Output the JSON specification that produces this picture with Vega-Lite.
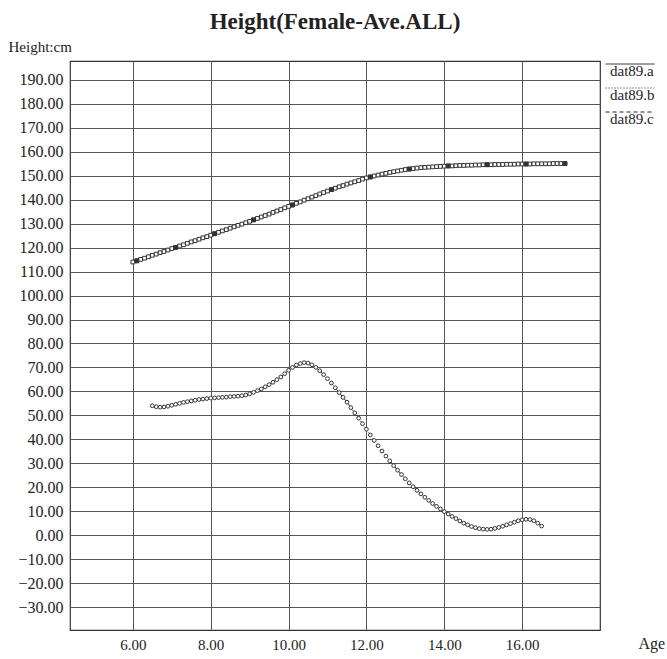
{
  "$schema": "https://vega.github.io/schema/vega-lite/v6.json",
  "width": 530,
  "height": 569,
  "autosize": {"type": "none"},
  "padding": {"left": 70, "top": 61, "right": 67, "bottom": 29},
  "background": "white",
  "config": {
    "view": {"stroke": "#333", "strokeWidth": 1.2},
    "font": "Liberation Serif"
  },
  "title": {
    "text": "Height(Female-Ave.ALL)",
    "font": "Liberation Serif",
    "fontSize": 23,
    "fontWeight": "bold",
    "color": "#222",
    "anchor": "middle",
    "offset": 5
  },
  "datasets": {
    "curves": [
      {"series": "dat89.b", "age": 6.0, "height": 114.0},
      {"series": "dat89.b", "age": 6.1, "height": 114.5},
      {"series": "dat89.b", "age": 6.2, "height": 115.1},
      {"series": "dat89.b", "age": 6.3, "height": 115.6},
      {"series": "dat89.b", "age": 6.4, "height": 116.2},
      {"series": "dat89.b", "age": 6.5, "height": 116.8},
      {"series": "dat89.b", "age": 6.6, "height": 117.3},
      {"series": "dat89.b", "age": 6.7, "height": 117.9},
      {"series": "dat89.b", "age": 6.8, "height": 118.4},
      {"series": "dat89.b", "age": 6.9, "height": 119.0},
      {"series": "dat89.b", "age": 7.0, "height": 119.6},
      {"series": "dat89.b", "age": 7.1, "height": 120.1},
      {"series": "dat89.b", "age": 7.2, "height": 120.7},
      {"series": "dat89.b", "age": 7.3, "height": 121.2},
      {"series": "dat89.b", "age": 7.4, "height": 121.8},
      {"series": "dat89.b", "age": 7.5, "height": 122.4},
      {"series": "dat89.b", "age": 7.6, "height": 122.9},
      {"series": "dat89.b", "age": 7.7, "height": 123.5},
      {"series": "dat89.b", "age": 7.8, "height": 124.1},
      {"series": "dat89.b", "age": 7.9, "height": 124.6},
      {"series": "dat89.b", "age": 8.0, "height": 125.2},
      {"series": "dat89.b", "age": 8.1, "height": 125.8},
      {"series": "dat89.b", "age": 8.2, "height": 126.4},
      {"series": "dat89.b", "age": 8.3, "height": 127.0},
      {"series": "dat89.b", "age": 8.4, "height": 127.5},
      {"series": "dat89.b", "age": 8.5, "height": 128.1},
      {"series": "dat89.b", "age": 8.6, "height": 128.7},
      {"series": "dat89.b", "age": 8.7, "height": 129.3},
      {"series": "dat89.b", "age": 8.8, "height": 129.8},
      {"series": "dat89.b", "age": 8.9, "height": 130.4},
      {"series": "dat89.b", "age": 9.0, "height": 131.0},
      {"series": "dat89.b", "age": 9.1, "height": 131.6},
      {"series": "dat89.b", "age": 9.2, "height": 132.2},
      {"series": "dat89.b", "age": 9.3, "height": 132.8},
      {"series": "dat89.b", "age": 9.4, "height": 133.4},
      {"series": "dat89.b", "age": 9.5, "height": 134.0},
      {"series": "dat89.b", "age": 9.6, "height": 134.7},
      {"series": "dat89.b", "age": 9.7, "height": 135.3},
      {"series": "dat89.b", "age": 9.8, "height": 135.9},
      {"series": "dat89.b", "age": 9.9, "height": 136.6},
      {"series": "dat89.b", "age": 10.0, "height": 137.2},
      {"series": "dat89.b", "age": 10.1, "height": 137.8},
      {"series": "dat89.b", "age": 10.2, "height": 138.5},
      {"series": "dat89.b", "age": 10.3, "height": 139.1},
      {"series": "dat89.b", "age": 10.4, "height": 139.8},
      {"series": "dat89.b", "age": 10.5, "height": 140.4},
      {"series": "dat89.b", "age": 10.6, "height": 141.1},
      {"series": "dat89.b", "age": 10.7, "height": 141.7},
      {"series": "dat89.b", "age": 10.8, "height": 142.4},
      {"series": "dat89.b", "age": 10.9, "height": 143.0},
      {"series": "dat89.b", "age": 11.0, "height": 143.6},
      {"series": "dat89.b", "age": 11.1, "height": 144.2},
      {"series": "dat89.b", "age": 11.2, "height": 144.8},
      {"series": "dat89.b", "age": 11.3, "height": 145.4},
      {"series": "dat89.b", "age": 11.4, "height": 145.9},
      {"series": "dat89.b", "age": 11.5, "height": 146.5},
      {"series": "dat89.b", "age": 11.6, "height": 147.0},
      {"series": "dat89.b", "age": 11.7, "height": 147.5},
      {"series": "dat89.b", "age": 11.8, "height": 148.0},
      {"series": "dat89.b", "age": 11.9, "height": 148.6},
      {"series": "dat89.b", "age": 12.0, "height": 149.1},
      {"series": "dat89.b", "age": 12.1, "height": 149.5},
      {"series": "dat89.b", "age": 12.2, "height": 149.9},
      {"series": "dat89.b", "age": 12.3, "height": 150.3},
      {"series": "dat89.b", "age": 12.4, "height": 150.7},
      {"series": "dat89.b", "age": 12.5, "height": 151.0},
      {"series": "dat89.b", "age": 12.6, "height": 151.4},
      {"series": "dat89.b", "age": 12.7, "height": 151.7},
      {"series": "dat89.b", "age": 12.8, "height": 152.0},
      {"series": "dat89.b", "age": 12.9, "height": 152.3},
      {"series": "dat89.b", "age": 13.0, "height": 152.6},
      {"series": "dat89.b", "age": 13.1, "height": 152.8},
      {"series": "dat89.b", "age": 13.2, "height": 153.0},
      {"series": "dat89.b", "age": 13.3, "height": 153.2},
      {"series": "dat89.b", "age": 13.4, "height": 153.4},
      {"series": "dat89.b", "age": 13.5, "height": 153.5},
      {"series": "dat89.b", "age": 13.6, "height": 153.6},
      {"series": "dat89.b", "age": 13.7, "height": 153.7},
      {"series": "dat89.b", "age": 13.8, "height": 153.8},
      {"series": "dat89.b", "age": 13.9, "height": 153.9},
      {"series": "dat89.b", "age": 14.0, "height": 154.0},
      {"series": "dat89.b", "age": 14.1, "height": 154.1},
      {"series": "dat89.b", "age": 14.2, "height": 154.1},
      {"series": "dat89.b", "age": 14.3, "height": 154.2},
      {"series": "dat89.b", "age": 14.4, "height": 154.3},
      {"series": "dat89.b", "age": 14.5, "height": 154.3},
      {"series": "dat89.b", "age": 14.6, "height": 154.4},
      {"series": "dat89.b", "age": 14.7, "height": 154.4},
      {"series": "dat89.b", "age": 14.8, "height": 154.5},
      {"series": "dat89.b", "age": 14.9, "height": 154.5},
      {"series": "dat89.b", "age": 15.0, "height": 154.6},
      {"series": "dat89.b", "age": 15.1, "height": 154.6},
      {"series": "dat89.b", "age": 15.2, "height": 154.6},
      {"series": "dat89.b", "age": 15.3, "height": 154.7},
      {"series": "dat89.b", "age": 15.4, "height": 154.7},
      {"series": "dat89.b", "age": 15.5, "height": 154.7},
      {"series": "dat89.b", "age": 15.6, "height": 154.8},
      {"series": "dat89.b", "age": 15.7, "height": 154.8},
      {"series": "dat89.b", "age": 15.8, "height": 154.8},
      {"series": "dat89.b", "age": 15.9, "height": 154.9},
      {"series": "dat89.b", "age": 16.0, "height": 154.9},
      {"series": "dat89.b", "age": 16.1, "height": 154.9},
      {"series": "dat89.b", "age": 16.2, "height": 154.9},
      {"series": "dat89.b", "age": 16.3, "height": 155.0},
      {"series": "dat89.b", "age": 16.4, "height": 155.0},
      {"series": "dat89.b", "age": 16.5, "height": 155.0},
      {"series": "dat89.b", "age": 16.6, "height": 155.0},
      {"series": "dat89.b", "age": 16.7, "height": 155.0},
      {"series": "dat89.b", "age": 16.8, "height": 155.1},
      {"series": "dat89.b", "age": 16.9, "height": 155.1},
      {"series": "dat89.b", "age": 17.0, "height": 155.1},
      {"series": "dat89.b", "age": 17.1, "height": 155.1},
      {"series": "dat89.a", "age": 6.1, "height": 114.5},
      {"series": "dat89.a", "age": 7.1, "height": 120.1},
      {"series": "dat89.a", "age": 8.1, "height": 125.8},
      {"series": "dat89.a", "age": 9.1, "height": 131.6},
      {"series": "dat89.a", "age": 10.1, "height": 137.8},
      {"series": "dat89.a", "age": 11.1, "height": 144.2},
      {"series": "dat89.a", "age": 12.1, "height": 149.5},
      {"series": "dat89.a", "age": 13.1, "height": 152.8},
      {"series": "dat89.a", "age": 14.1, "height": 154.1},
      {"series": "dat89.a", "age": 15.1, "height": 154.6},
      {"series": "dat89.a", "age": 16.1, "height": 154.9},
      {"series": "dat89.a", "age": 17.1, "height": 155.1},
      {"series": "dat89.c", "age": 6.5, "height": 54.0},
      {"series": "dat89.c", "age": 6.6, "height": 53.6},
      {"series": "dat89.c", "age": 6.7, "height": 53.4},
      {"series": "dat89.c", "age": 6.8, "height": 53.5},
      {"series": "dat89.c", "age": 6.9, "height": 53.8},
      {"series": "dat89.c", "age": 7.0, "height": 54.2},
      {"series": "dat89.c", "age": 7.1, "height": 54.6},
      {"series": "dat89.c", "age": 7.2, "height": 55.0},
      {"series": "dat89.c", "age": 7.3, "height": 55.4},
      {"series": "dat89.c", "age": 7.4, "height": 55.7},
      {"series": "dat89.c", "age": 7.5, "height": 56.0},
      {"series": "dat89.c", "age": 7.6, "height": 56.3},
      {"series": "dat89.c", "age": 7.7, "height": 56.6},
      {"series": "dat89.c", "age": 7.8, "height": 56.8},
      {"series": "dat89.c", "age": 7.9, "height": 57.0},
      {"series": "dat89.c", "age": 8.0, "height": 57.2},
      {"series": "dat89.c", "age": 8.1, "height": 57.3},
      {"series": "dat89.c", "age": 8.2, "height": 57.4},
      {"series": "dat89.c", "age": 8.3, "height": 57.5},
      {"series": "dat89.c", "age": 8.4, "height": 57.6},
      {"series": "dat89.c", "age": 8.5, "height": 57.8},
      {"series": "dat89.c", "age": 8.6, "height": 57.9},
      {"series": "dat89.c", "age": 8.7, "height": 58.0},
      {"series": "dat89.c", "age": 8.8, "height": 58.2},
      {"series": "dat89.c", "age": 8.9, "height": 58.5},
      {"series": "dat89.c", "age": 9.0, "height": 59.0},
      {"series": "dat89.c", "age": 9.1, "height": 59.6},
      {"series": "dat89.c", "age": 9.2, "height": 60.3},
      {"series": "dat89.c", "age": 9.3, "height": 61.0},
      {"series": "dat89.c", "age": 9.4, "height": 61.9},
      {"series": "dat89.c", "age": 9.5, "height": 62.8},
      {"series": "dat89.c", "age": 9.6, "height": 63.8},
      {"series": "dat89.c", "age": 9.7, "height": 64.9},
      {"series": "dat89.c", "age": 9.8, "height": 66.0},
      {"series": "dat89.c", "age": 9.9, "height": 67.4},
      {"series": "dat89.c", "age": 10.0, "height": 68.8},
      {"series": "dat89.c", "age": 10.1, "height": 70.0},
      {"series": "dat89.c", "age": 10.2, "height": 71.0},
      {"series": "dat89.c", "age": 10.3, "height": 71.6},
      {"series": "dat89.c", "age": 10.4, "height": 72.0},
      {"series": "dat89.c", "age": 10.5, "height": 71.8},
      {"series": "dat89.c", "age": 10.6, "height": 71.1},
      {"series": "dat89.c", "age": 10.7, "height": 70.0},
      {"series": "dat89.c", "age": 10.8, "height": 68.6},
      {"series": "dat89.c", "age": 10.9, "height": 67.0},
      {"series": "dat89.c", "age": 11.0, "height": 65.3},
      {"series": "dat89.c", "age": 11.1, "height": 63.5},
      {"series": "dat89.c", "age": 11.2, "height": 61.5},
      {"series": "dat89.c", "age": 11.3, "height": 59.5},
      {"series": "dat89.c", "age": 11.4, "height": 57.5},
      {"series": "dat89.c", "age": 11.5, "height": 55.5},
      {"series": "dat89.c", "age": 11.6, "height": 53.2},
      {"series": "dat89.c", "age": 11.7, "height": 51.0},
      {"series": "dat89.c", "age": 11.8, "height": 48.8},
      {"series": "dat89.c", "age": 11.9, "height": 46.5},
      {"series": "dat89.c", "age": 12.0, "height": 44.2},
      {"series": "dat89.c", "age": 12.1, "height": 41.8},
      {"series": "dat89.c", "age": 12.2, "height": 39.5},
      {"series": "dat89.c", "age": 12.3, "height": 37.3},
      {"series": "dat89.c", "age": 12.4, "height": 35.1},
      {"series": "dat89.c", "age": 12.5, "height": 33.0},
      {"series": "dat89.c", "age": 12.6, "height": 31.0},
      {"series": "dat89.c", "age": 12.7, "height": 29.0},
      {"series": "dat89.c", "age": 12.8, "height": 27.1},
      {"series": "dat89.c", "age": 12.9, "height": 25.3},
      {"series": "dat89.c", "age": 13.0, "height": 23.5},
      {"series": "dat89.c", "age": 13.1, "height": 21.8},
      {"series": "dat89.c", "age": 13.2, "height": 20.2},
      {"series": "dat89.c", "age": 13.3, "height": 18.7},
      {"series": "dat89.c", "age": 13.4, "height": 17.2},
      {"series": "dat89.c", "age": 13.5, "height": 15.8},
      {"series": "dat89.c", "age": 13.6, "height": 14.5},
      {"series": "dat89.c", "age": 13.7, "height": 13.2},
      {"series": "dat89.c", "age": 13.8, "height": 12.0},
      {"series": "dat89.c", "age": 13.9, "height": 10.9},
      {"series": "dat89.c", "age": 14.0, "height": 9.8},
      {"series": "dat89.c", "age": 14.1, "height": 8.8},
      {"series": "dat89.c", "age": 14.2, "height": 7.8},
      {"series": "dat89.c", "age": 14.3, "height": 6.9},
      {"series": "dat89.c", "age": 14.4, "height": 5.9},
      {"series": "dat89.c", "age": 14.5, "height": 5.0},
      {"series": "dat89.c", "age": 14.6, "height": 4.3},
      {"series": "dat89.c", "age": 14.7, "height": 3.6},
      {"series": "dat89.c", "age": 14.8, "height": 3.1},
      {"series": "dat89.c", "age": 14.9, "height": 2.7},
      {"series": "dat89.c", "age": 15.0, "height": 2.5},
      {"series": "dat89.c", "age": 15.1, "height": 2.4},
      {"series": "dat89.c", "age": 15.2, "height": 2.5},
      {"series": "dat89.c", "age": 15.3, "height": 2.8},
      {"series": "dat89.c", "age": 15.4, "height": 3.2},
      {"series": "dat89.c", "age": 15.5, "height": 3.7},
      {"series": "dat89.c", "age": 15.6, "height": 4.3},
      {"series": "dat89.c", "age": 15.7, "height": 4.8},
      {"series": "dat89.c", "age": 15.8, "height": 5.4},
      {"series": "dat89.c", "age": 15.9, "height": 6.0},
      {"series": "dat89.c", "age": 16.0, "height": 6.4},
      {"series": "dat89.c", "age": 16.1, "height": 6.6},
      {"series": "dat89.c", "age": 16.2, "height": 6.5},
      {"series": "dat89.c", "age": 16.3, "height": 6.0},
      {"series": "dat89.c", "age": 16.4, "height": 5.0},
      {"series": "dat89.c", "age": 16.5, "height": 3.8}
    ]
  },
  "data": {"name": "curves"},
  "layer": [
    {
      "mark": {"type": "line", "strokeWidth": 1, "color": "#333"},
      "encoding": {
        "x": {
          "field": "age",
          "type": "quantitative",
          "scale": {"domain": [4.385, 18], "nice": false, "zero": false},
          "axis": {
            "values": [6, 8, 10, 12, 14, 16],
            "tickCount": 20,
            "format": ".2f",
            "ticks": false,
            "domain": false,
            "grid": true,
            "gridColor": "#555",
            "gridWidth": 1,
            "labelFont": "Liberation Serif",
            "labelFontSize": 15,
            "labelColor": "#222",
            "labelPadding": 7,
            "labelOverlap": false,
            "title": "Age",
            "titleFont": "Liberation Serif",
            "titleFontSize": 16,
            "titleFontWeight": "normal",
            "titleColor": "#222",
            "titleAlign": "left",
            "titleBaseline": "alphabetic",
            "titleX": 568,
            "titleY": 18
          }
        },
        "y": {
          "field": "height",
          "type": "quantitative",
          "scale": {"domain": [-39.6, 197.9], "nice": false, "zero": false},
          "axis": {
            "values": [-30, -20, -10, 0, 10, 20, 30, 40, 50, 60, 70, 80, 90, 100, 110, 120, 130, 140, 150, 160, 170, 180, 190],
            "tickCount": 40,
            "format": ".2f",
            "ticks": false,
            "domain": false,
            "grid": true,
            "gridColor": "#555",
            "gridWidth": 1,
            "labelFont": "Liberation Serif",
            "labelFontSize": 16,
            "labelColor": "#222",
            "labelPadding": 7,
            "labelOverlap": false,
            "title": "Height:cm",
            "titleFont": "Liberation Serif",
            "titleFontSize": 15,
            "titleFontWeight": "normal",
            "titleColor": "#222",
            "titleAngle": 0,
            "titleAlign": "left",
            "titleBaseline": "alphabetic",
            "titleX": -62,
            "titleY": -10
          }
        },
        "detail": {"field": "series"},
        "strokeDash": {
          "field": "series",
          "type": "nominal",
          "scale": {"domain": ["dat89.a", "dat89.b", "dat89.c"], "range": [[1, 0], [1, 2], [4, 3]]},
          "legend": {
            "orient": "none",
            "legendX": 535,
            "legendY": -6,
            "title": null,
            "padding": 0,
            "symbolType": "stroke",
            "symbolSize": 4900,
            "clipHeight": 18,
            "symbolStrokeColor": "#222",
            "symbolStrokeWidth": 1,
            "labelFont": "Liberation Serif",
            "labelFontSize": 15,
            "labelColor": "#222",
            "labelBaseline": "top",
            "labelOffset": -66,
            "rowPadding": 0
          }
        }
      }
    },
    {
      "transform": [{"filter": "datum.series === 'dat89.b'"}],
      "mark": {"type": "point", "shape": "square", "filled": true, "fill": "#ffffff", "stroke": "#333", "strokeWidth": 1, "size": 14, "opacity": 1},
      "encoding": {
        "x": {"field": "age", "type": "quantitative"},
        "y": {"field": "height", "type": "quantitative"}
      }
    },
    {
      "transform": [{"filter": "datum.series === 'dat89.a'"}],
      "mark": {"type": "point", "shape": "square", "filled": true, "fill": "#333", "stroke": "#333", "strokeWidth": 1, "size": 14, "opacity": 1},
      "encoding": {
        "x": {"field": "age", "type": "quantitative"},
        "y": {"field": "height", "type": "quantitative"}
      }
    },
    {
      "transform": [{"filter": "datum.series === 'dat89.c'"}],
      "mark": {"type": "point", "shape": "circle", "filled": true, "fill": "#ffffff", "stroke": "#333", "strokeWidth": 1, "size": 14, "opacity": 1},
      "encoding": {
        "x": {"field": "age", "type": "quantitative"},
        "y": {"field": "height", "type": "quantitative"}
      }
    }
  ]
}
